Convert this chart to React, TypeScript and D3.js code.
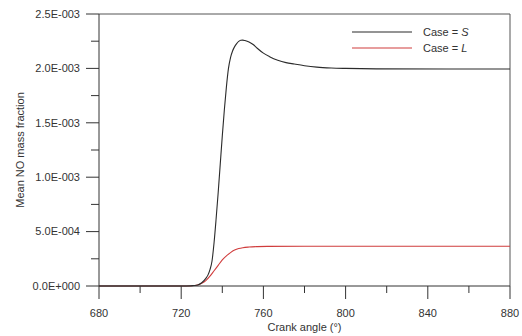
import React from 'react';
import * as d3 from 'd3';

// Crank angle (deg) and mean NO mass fraction, case S
const angleS = [680, 700, 720, 725, 728, 730, 732, 733, 734, 735, 736, 737, 738, 739, 740, 741, 742, 743, 744, 745, 746, 747, 748, 749, 750, 751, 753, 755, 757, 760, 763, 767, 771, 775, 780, 786, 793, 800, 815, 850, 880];
const noS = [0, 0, 0, 0.000003, 0.00001, 0.00003, 0.00007, 0.0001, 0.00015, 0.00023, 0.0004, 0.00062, 0.00086, 0.00112, 0.00138, 0.00162, 0.00183, 0.002, 0.0021, 0.00216, 0.0022, 0.002228, 0.002248, 0.002258, 0.00226, 0.002256, 0.002243, 0.00222, 0.002185, 0.00214, 0.002108, 0.002075, 0.002053, 0.00204, 0.002025, 0.002012, 0.002004, 0.002, 0.001996, 0.001995, 0.001995];

// Crank angle (deg) and mean NO mass fraction, case L
const angleL = [680, 700, 720, 724, 726, 728, 730, 732, 734, 736, 738, 740, 742, 744, 746, 748, 750, 753, 757, 762, 780, 820, 880];
const noL = [0, 0, 0, 0, 0.000004, 0.00001, 0.000025, 0.00005, 0.00009, 0.00014, 0.00019, 0.00024, 0.000277, 0.000307, 0.00033, 0.000344, 0.000352, 0.000358, 0.000362, 0.000364, 0.000365, 0.000365, 0.000365];

const xTicks = [680, 720, 760, 800, 840, 880];
const xMinorTicks = [700, 740, 780, 820, 860];
const yTicks = [0, 0.0005, 0.001, 0.0015, 0.002, 0.0025];
const yTickLabels = ['0.0E+000', '5.0E-004', '1.0E-003', '1.5E-003', '2.0E-003', '2.5E-003'];
const yMinorTicks = [0.00025, 0.00075, 0.00125, 0.00175, 0.00225];
const legendCases = ['S', 'L'];
const seriesColors = ['#2b2b2b', '#d03c3c'];

const W = 522;
const H = 336;
const margin = { left: 99, top: 14, right: 12, bottom: 50 };
const FONT = '"Liberation Sans", Arial, sans-serif';

export default function App() {
  const x = d3.scaleLinear().domain([680, 880]).range([margin.left, W - margin.right]);
  const y = d3.scaleLinear().domain([0, 0.0025]).range([H - margin.bottom, margin.top]);

  const line = d3
    .line<[number, number]>()
    .x((d) => x(d[0]))
    .y((d) => y(d[1]))
    .curve(d3.curveMonotoneX);

  const pathS = line(angleS.map((a, i) => [a, noS[i]] as [number, number])) || '';
  const pathL = line(angleL.map((a, i) => [a, noL[i]] as [number, number])) || '';

  const x0 = x(680);
  const x1 = x(880);
  const y0 = y(0);
  const y1 = y(0.0025);

  return (
    <svg
      width={W}
      height={H}
      viewBox={`0 0 ${W} ${H}`}
      style={{ position: 'absolute', left: 0, top: 0, background: '#fff' }}
      fontFamily={FONT}
    >
      {/* frame */}
      <line x1={x0} x2={x1} y1={y1} y2={y1} stroke="#555" strokeWidth={1} />
      <line x1={x1} x2={x1} y1={y1} y2={y0} stroke="#555" strokeWidth={1} />

      {/* curves */}
      <path d={pathL} fill="none" stroke={seriesColors[1]} strokeWidth={1.1} />
      <path d={pathS} fill="none" stroke={seriesColors[0]} strokeWidth={1.1} />

      {/* y axis */}
      <line x1={x0} x2={x0} y1={y1} y2={y0} stroke="#333" strokeWidth={1} />
      {yTicks.map((t, i) => (
        <g key={`yt${t}`}>
          <line x1={x0 - 13} x2={x0} y1={y(t)} y2={y(t)} stroke="#333" strokeWidth={1} />
          <text x={x0 - 19} y={y(t)} dy="0.35em" textAnchor="end" fontSize={11} fill="#333">
            {yTickLabels[i]}
          </text>
        </g>
      ))}
      {yMinorTicks.map((t) => (
        <line key={`ym${t}`} x1={x0 - 8} x2={x0} y1={y(t)} y2={y(t)} stroke="#333" strokeWidth={1} />
      ))}
      <text
        transform={`translate(20,${(y0 + y1) / 2}) rotate(-90)`}
        dy="0.35em"
        textAnchor="middle"
        fontSize={11}
        fill="#333"
      >
        Mean NO mass fraction
      </text>

      {/* x axis */}
      <line x1={x0} x2={x1} y1={y0} y2={y0} stroke="#333" strokeWidth={1} />
      {xTicks.map((t) => (
        <g key={`xt${t}`}>
          <line x1={x(t)} x2={x(t)} y1={y0} y2={y0 + 13} stroke="#333" strokeWidth={1} />
          <text x={x(t)} y={317} textAnchor="middle" fontSize={11} fill="#333">
            {t}
          </text>
        </g>
      ))}
      {xMinorTicks.map((t) => (
        <line key={`xm${t}`} x1={x(t)} x2={x(t)} y1={y0} y2={y0 + 7} stroke="#333" strokeWidth={1} />
      ))}
      <text x={(x0 + x1) / 2} y={331} textAnchor="middle" fontSize={11} fill="#333">
        Crank angle (°)
      </text>

      {/* legend */}
      {legendCases.map((c, i) => (
        <g key={c}>
          <line x1={352} x2={412} y1={32 + i * 16} y2={32 + i * 16} stroke={seriesColors[i]} strokeWidth={1.1} />
          <text x={423} y={32 + i * 16} dy="0.35em" fontSize={11} fill="#333">
            Case = <tspan fontStyle="italic">{c}</tspan>
          </text>
        </g>
      ))}
    </svg>
  );
}
